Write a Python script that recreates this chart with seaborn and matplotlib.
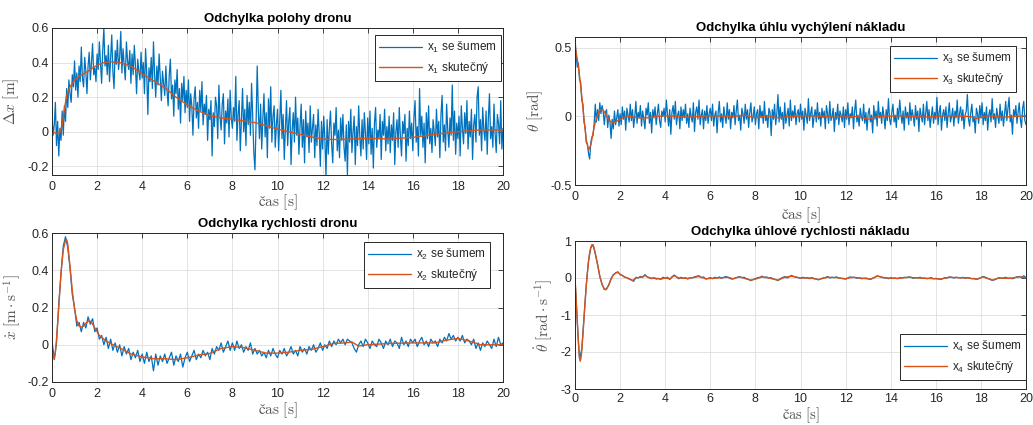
import matplotlib
matplotlib.use('Agg')
import matplotlib.pyplot as plt
import matplotlib.ticker as mticker
import pandas as pd
import seaborn as sns

BLUE = '#0072BD'
ORANGE = '#D95319'

# ---------------- data ----------------
# sample times: fine grid (0.05 s) for x1/x3, coarse grid (0.1 s) for x2/x4
time_fine = [round(0.05 * i, 2) for i in range(401)]
time_coarse = [round(0.1 * i, 1) for i in range(201)]

x1_noisy = [
    0.09, -0.02, 0.04, 0.17, -0.08, 0.06, -0.14, 0.02, -0.05, 0.12, -0.02, 0.15, 0.06, 0.25, 0.14, 0.30, 0.22, 0.17, 0.33, 0.26,
    0.41, 0.24, 0.34, 0.20, 0.38, 0.29, 0.49, 0.31, 0.26, 0.43, 0.35, 0.22, 0.38, 0.46, 0.30, 0.40, 0.51, 0.33, 0.37, 0.29,
    0.45, 0.36, 0.52, 0.40, 0.28, 0.47, 0.60, 0.38, 0.44, 0.33, 0.50, 0.29, 0.42, 0.56, 0.35, 0.25, 0.47, 0.39, 0.53, 0.36,
    0.43, 0.58, 0.34, 0.48, 0.39, 0.30, 0.52, 0.41, 0.36, 0.47, 0.28, 0.45, 0.33, 0.50, 0.38, 0.22, 0.42, 0.35, 0.30, 0.46,
    0.31, 0.40, 0.22, 0.48, 0.34, 0.10, 0.37, 0.29, 0.43, 0.25, 0.52, 0.33, 0.20, 0.38, 0.27, 0.45, 0.31, 0.18, 0.35, 0.28,
    0.21, 0.38, 0.24, 0.15, 0.33, 0.42, 0.19, 0.27, 0.09, 0.30, 0.22, 0.36, 0.13, 0.25, 0.05, 0.28, 0.18, 0.32, 0.11, 0.24,
    0.14, 0.30, 0.06, 0.22, 0.15, -0.02, 0.19, 0.26, 0.08, 0.17, 0.02, 0.24, 0.12, 0.29, 0.04, 0.16, 0.10, 0.21, -0.05, 0.13,
    0.07, 0.18, -0.14, 0.11, 0.03, 0.20, 0.15, -0.04, 0.27, 0.09, 0.01, 0.16, 0.22, -0.07, 0.12, 0.05, 0.19, -0.03, 0.24, 0.08,
    0.02, 0.14, 0.06, 0.32, -0.05, 0.10, 0.18, -0.11, 0.07, 0.25, 0.00, 0.13, -0.08, 0.21, 0.04, 0.17, -0.02, 0.28, 0.09, -0.12,
    -0.22, 0.05, 0.38, 0.12, -0.04, 0.16, -0.10, 0.08, 0.22, -0.03, 0.11, -0.15, 0.19, 0.02, 0.26, -0.06, 0.09, 0.15, -0.09, 0.04,
    0.13, -0.11, 0.07, 0.24, -0.04, 0.10, -0.16, 0.02, 0.18, -0.08, 0.06, 0.14, -0.19, 0.01, 0.11, -0.06, 0.20, -0.02, 0.08, -0.13,
    0.03, 0.16, -0.09, 0.07, -0.18, 0.12, -0.03, 0.05, -0.12, 0.15, -0.06, 0.02, 0.10, -0.15, 0.04, -0.08, 0.13, -0.01, -0.20, 0.06,
    -0.10, 0.09, -0.04, -0.26, 0.07, -0.13, 0.02, 0.12, -0.07, -0.18, 0.05, -0.02, 0.14, -0.11, 0.01, -0.15, 0.08, -0.05, 0.10, -0.09,
    -0.17, 0.04, -0.25, 0.06, -0.06, 0.13, -0.12, 0.00, 0.09, -0.19, 0.03, -0.08, 0.15, -0.03, -0.14, 0.07, -0.10, 0.11, -0.01, -0.16,
    0.08, -0.07, 0.12, -0.13, 0.02, -0.21, 0.05, 0.14, -0.09, 0.01, -0.04, 0.10, -0.16, 0.06, -0.02, 0.13, -0.11, 0.03, -0.07, 0.09,
    -0.12, 0.04, -0.05, 0.11, -0.19, 0.00, 0.07, -0.09, 0.14, -0.03, -0.14, 0.06, -0.01, 0.10, -0.17, 0.02, -0.08, 0.12, -0.04, 0.05,
    -0.11, 0.08, 0.18, -0.06, 0.03, -0.14, 0.25, -0.02, 0.09, -0.09, 0.05, -0.18, 0.11, -0.04, 0.15, -0.07, 0.02, -0.12, 0.07, 0.00,
    -0.08, 0.13, -0.03, 0.06, -0.15, 0.10, 0.21, -0.06, 0.04, -0.11, 0.16, 0.01, -0.09, 0.08, -0.02, 0.27, -0.05, 0.12, -0.13, 0.05,
    -0.04, 0.09, -0.14, 0.15, 0.02, -0.07, 0.11, -0.01, 0.18, -0.10, 0.06, -0.03, 0.13, -0.16, 0.04, 0.10, -0.06, 0.20, 0.26, -0.02,
    0.07, -0.11, 0.14, 0.01, -0.05, 0.12, -0.13, 0.08, 0.22, -0.04, 0.03, -0.09, 0.16, -0.01, -0.12, 0.10, 0.05, -0.07, 0.18, -0.10,
    0.02,
]
x1_true_t = [0.0, 0.2, 0.35, 0.45, 0.55, 0.65, 0.8, 1.0, 1.2, 1.4, 1.6, 1.8, 2.0, 2.3,
             2.6, 3.0, 3.5, 4.0, 4.5, 5.0, 5.5, 6.0, 6.5, 7.0, 7.5, 8.0, 8.5, 9.0, 9.5,
             10.0, 10.5, 11.0, 11.5, 12.0, 12.5, 13.0, 14.0, 15.0, 16.0, 17.0, 18.0, 19.0, 20.0]
x1_true = [0.0, -0.01, -0.005, 0.04, 0.13, 0.21, 0.26, 0.30, 0.32, 0.335, 0.35, 0.37, 0.385, 0.40,
           0.405, 0.40, 0.38, 0.335, 0.295, 0.255, 0.20, 0.155, 0.12, 0.093, 0.08, 0.072, 0.063, 0.053, 0.035,
           0.015, 0.0, -0.015, -0.03, -0.042, -0.045, -0.043, -0.038, -0.042, -0.032, -0.015, 0.0, 0.01, 0.01]

x2_noisy = [
    0.02, -0.08, 0.01, 0.22, 0.38, 0.53, 0.58, 0.52, 0.41, 0.27,
    0.20, 0.10, 0.12, 0.07, 0.12, 0.09, 0.15, 0.11, 0.14, 0.07,
    0.09, 0.03, 0.05, 0.00, 0.04, -0.02, 0.03, -0.03, 0.01, -0.04,
    0.00, -0.06, -0.01, -0.05, -0.02, -0.08, -0.04, -0.07, -0.03, -0.09,
    -0.05, -0.10, -0.04, -0.09, -0.06, -0.14, -0.05, -0.11, -0.06, -0.09,
    -0.05, -0.10, -0.07, -0.04, -0.11, -0.06, -0.09, -0.05, -0.12, -0.07,
    -0.04, -0.09, -0.06, -0.03, -0.08, -0.05, -0.07, -0.03, -0.06, -0.04,
    -0.08, -0.02, -0.05, -0.01, -0.03, 0.01, -0.04, -0.01, 0.02, -0.03,
    0.01, -0.03, 0.02, -0.02, 0.00, -0.04, -0.01, -0.03, 0.01, -0.05,
    -0.02, -0.05, -0.03, -0.06, -0.04, -0.07, -0.03, -0.06, -0.02, -0.05,
    -0.07, -0.03, -0.05, -0.02, -0.06, -0.04, -0.01, -0.05, -0.03, -0.06,
    -0.01, -0.04, -0.02, -0.05, -0.01, -0.03, 0.00, -0.04, -0.02, 0.01,
    -0.03, 0.00, -0.02, 0.02, -0.01, 0.02, 0.00, 0.03, 0.01, 0.03,
    0.00, 0.03, 0.02, 0.01, -0.02, -0.04, 0.00, 0.02, -0.01, 0.03,
    0.01, -0.02, 0.02, 0.00, -0.01, 0.03, 0.01, -0.02, 0.02, 0.00,
    0.03, -0.01, 0.02, 0.01, -0.02, 0.04, 0.00, 0.02, -0.01, 0.03,
    0.01, 0.03, -0.01, 0.02, 0.04, 0.00, 0.02, -0.01, 0.03, 0.01,
    0.02, -0.01, 0.03, 0.01, 0.04, 0.02, 0.06, 0.03, 0.05, 0.02,
    0.04, 0.02, 0.05, 0.01, 0.03, 0.02, 0.00, 0.03, -0.02, 0.01,
    -0.03, 0.01, -0.01, 0.02, 0.00, -0.02, 0.03, -0.01, 0.04, 0.00,
    0.01,
]
x2_true_t = [0.0, 0.05, 0.1, 0.15, 0.2, 0.3, 0.4, 0.5, 0.6, 0.65, 0.7, 0.8, 0.9, 1.0, 1.1,
             1.2, 1.3, 1.4, 1.5, 1.65, 1.75, 1.9, 2.1, 2.4, 2.7, 3.0, 3.5, 4.0, 4.5, 5.0,
             5.5, 6.0, 6.5, 7.0, 7.5, 8.0, 8.5, 9.0, 9.5, 10.0, 10.5, 11.0, 11.5, 12.0,
             12.5, 13.0, 13.3, 13.6, 14.0, 15.0, 16.0, 17.0, 17.5, 18.0, 18.5, 19.0, 20.0]
x2_true = [0.0, -0.05, -0.075, -0.04, 0.03, 0.20, 0.39, 0.51, 0.56, 0.565, 0.54, 0.42, 0.29, 0.19, 0.13,
           0.10, 0.095, 0.10, 0.115, 0.13, 0.12, 0.09, 0.05, 0.02, 0.0, -0.017, -0.05, -0.065, -0.075, -0.075,
           -0.08, -0.07, -0.055, -0.047, -0.02, -0.01, -0.015, -0.03, -0.045, -0.045, -0.04, -0.03, -0.025, -0.01,
           0.007, 0.01, 0.015, -0.007, 0.0, 0.007, 0.01, 0.01, 0.025, 0.034, 0.02, 0.0, 0.0]

x3_noisy = [
    0.58, 0.45, 0.36, 0.39, 0.27, 0.25, 0.12, 0.09, -0.04, -0.08, -0.19, -0.20, -0.27, -0.31, -0.19, -0.15, -0.14, -0.05, 0.09, -0.04,
    0.05, -0.03, 0.10, 0.02, 0.08, 0.04, -0.06, 0.03, 0.05, -0.08, 0.01, -0.04, -0.16, -0.02, -0.09, 0.04, -0.06, -0.01, 0.05, -0.07,
    0.02, -0.06, 0.07, -0.02, 0.04, -0.10, 0.06, 0.01, -0.04, 0.09, -0.03, 0.05, -0.08, 0.00, 0.11, -0.05, 0.03, -0.01, 0.08, -0.07,
    0.04, -0.02, -0.09, 0.06, 0.01, 0.10, -0.05, 0.03, -0.12, 0.05, -0.01, 0.07, -0.06, 0.02, 0.09, -0.03, -0.08, 0.04, 0.00, 0.06,
    -0.04, 0.12, 0.02, -0.07, 0.05, -0.13, 0.03, 0.08, -0.02, 0.11, -0.06, 0.01, 0.04, -0.09, 0.07, -0.03, 0.05, -0.01, 0.09, -0.05,
    0.02, -0.08, 0.06, 0.00, -0.04, 0.10, -0.11, 0.03, 0.07, -0.02, 0.12, -0.06, 0.01, 0.05, -0.09, 0.04, -0.03, 0.08, -0.05, 0.02,
    0.06, -0.03, 0.09, -0.07, 0.01, 0.04, -0.12, 0.03, 0.11, -0.04, 0.02, -0.08, 0.07, 0.00, -0.05, 0.10, -0.02, 0.05, -0.09, 0.03,
    -0.01, 0.08, -0.06, 0.04, 0.12, -0.03, 0.01, -0.10, 0.06, 0.02, -0.05, 0.09, -0.02, 0.05, -0.08, 0.03, 0.10, -0.04, 0.00, 0.07,
    -0.06, 0.02, 0.05, -0.09, 0.08, -0.01, 0.04, -0.05, 0.11, -0.03, 0.01, -0.08, 0.06, 0.03, -0.14, 0.05, -0.02, 0.09, -0.06, 0.02,
    0.16, -0.04, 0.07, -0.02, 0.03, -0.09, 0.10, -0.05, 0.01, 0.06, -0.07, 0.12, -0.03, 0.04, -0.01, 0.08, -0.06, 0.02, 0.05, -0.04,
    0.09, -0.02, 0.04, -0.10, 0.06, 0.01, -0.05, 0.13, -0.03, 0.02, 0.07, -0.08, 0.00, 0.05, -0.04, 0.10, -0.02, 0.03, -0.07, 0.06,
    -0.01, 0.04, -0.09, 0.08, 0.02, -0.05, 0.11, -0.03, 0.00, 0.06, -0.11, 0.03, -0.02, 0.09, -0.06, 0.04, 0.01, -0.04, 0.07, -0.08,
    0.05, -0.02, 0.10, -0.06, 0.02, -0.01, 0.07, -0.09, 0.04, 0.12, -0.04, 0.01, -0.07, 0.06, 0.00, -0.03, 0.09, -0.05, 0.03, -0.10,
    0.02, 0.06, -0.04, 0.01, -0.12, 0.08, -0.02, 0.04, -0.07, 0.11, -0.01, 0.03, -0.05, 0.07, 0.00, -0.09, 0.05, -0.03, 0.13, -0.02,
    -0.06, 0.03, 0.09, -0.04, 0.01, -0.08, 0.06, -0.02, 0.12, 0.02, -0.05, 0.04, -0.10, 0.07, -0.01, 0.03, -0.06, 0.10, -0.03, 0.05,
    0.00, -0.07, 0.08, -0.02, 0.04, -0.11, 0.06, 0.01, -0.04, 0.09, -0.06, 0.02, 0.11, -0.03, 0.05, -0.08, 0.00, 0.07, -0.05, 0.03,
    -0.02, 0.14, -0.06, 0.03, 0.08, -0.10, 0.01, 0.05, -0.03, 0.07, -0.08, 0.02, 0.10, -0.04, 0.00, 0.06, -0.07, 0.04, -0.01, 0.12,
    -0.05, 0.02, 0.07, -0.03, 0.05, -0.09, 0.01, 0.04, 0.16, -0.02, -0.07, 0.03, 0.09, -0.04, 0.00, -0.12, 0.06, 0.02, -0.05, 0.08,
    -0.01, 0.10, -0.06, 0.03, -0.03, 0.07, -0.10, 0.01, 0.05, -0.04, 0.13, -0.02, 0.02, -0.08, 0.06, 0.00, -0.05, 0.09, -0.03, 0.04,
    -0.07, 0.02, 0.11, -0.03, 0.06, 0.14, -0.04, 0.01, -0.13, 0.05, 0.00, 0.08, -0.05, 0.03, 0.10, -0.02, -0.08, 0.06, 0.11, -0.03,
    -0.06,
]
x3_true_t = [0.0, 0.1, 0.2, 0.3, 0.4, 0.5, 0.6, 0.7, 0.8, 0.9, 1.0, 1.1, 1.2, 1.3, 1.4,
             1.5, 1.6, 1.7, 1.8, 1.9, 2.0, 2.2, 2.5, 2.8, 3.2, 3.6, 4.0, 5.0, 5.5, 6.0,
             7.0, 7.5, 8.0, 8.5, 9.0, 9.5, 10.5, 11.5, 12.5, 13.0, 13.4, 14.5, 15.5,
             16.5, 17.5, 17.8, 18.3, 19.0, 20.0]
x3_true = [0.52, 0.42, 0.30, 0.15, -0.02, -0.17, -0.245, -0.21, -0.12, -0.04, 0.01, 0.048, 0.052, 0.035, 0.005,
           -0.024, -0.04, -0.044, -0.04, -0.03, -0.02, -0.005, 0.0, -0.01, -0.01, 0.0, 0.005, -0.005, 0.0, 0.005,
           0.0, 0.01, -0.01, 0.005, -0.01, 0.0, 0.005, -0.005, 0.0, -0.02, 0.0, 0.005, -0.005,
           0.005, 0.0, -0.015, 0.005, -0.005, 0.005]

x4_noisy = [
    0.00, -1.18, -2.19, -1.93, -1.06, -0.20, 0.47, 0.81, 0.90, 0.66,
    0.38, 0.04, -0.17, -0.31, -0.29, -0.19, -0.01, 0.09, 0.13, 0.17,
    0.09, 0.07, 0.02, 0.01, -0.03, -0.05, -0.09, 0.02, 0.00, 0.04,
    0.02, 0.09, 0.03, 0.01, -0.02, 0.01, -0.03, -0.01, -0.04, 0.02,
    -0.01, 0.02, -0.04, 0.03, 0.08, 0.03, -0.02, 0.02, -0.01, 0.01,
    -0.03, 0.01, 0.00, 0.03, 0.05, 0.06, 0.01, 0.03, -0.03, -0.01,
    0.01, -0.02, 0.02, 0.00, 0.03, -0.01, 0.02, 0.04, 0.01, -0.02,
    -0.03, 0.00, 0.02, 0.04, 0.01, 0.02, -0.02, -0.04, -0.07, -0.04,
    -0.02, 0.01, 0.02, 0.05, 0.01, 0.03, -0.01, 0.01, -0.03, -0.04,
    -0.07, -0.02, 0.01, 0.04, 0.00, 0.03, 0.07, 0.04, 0.02, 0.01,
    -0.01, 0.02, 0.00, 0.01, -0.02, 0.01, -0.01, -0.03, -0.05, -0.02,
    0.00, 0.01, 0.04, 0.00, 0.02, 0.01, 0.03, 0.00, -0.01, -0.02,
    -0.03, 0.00, 0.03, 0.01, 0.02, -0.01, 0.01, -0.02, -0.01, 0.00,
    -0.02, -0.04, -0.01, 0.02, 0.06, 0.04, 0.02, 0.00, 0.01, -0.02,
    0.01, -0.01, 0.00, -0.02, 0.01, 0.00, 0.02, 0.01, 0.03, 0.02,
    -0.01, 0.01, 0.00, 0.02, -0.01, 0.00, -0.02, -0.01, 0.01, -0.02,
    -0.01, -0.02, -0.04, -0.02, 0.01, 0.00, 0.03, 0.02, 0.00, 0.02,
    0.01, 0.00, 0.02, -0.01, 0.01, 0.00, -0.02, -0.01, -0.04, -0.02,
    0.01, 0.04, 0.02, -0.01, -0.03, -0.06, -0.05, -0.02, 0.01, -0.01,
    0.00, 0.02, -0.01, 0.00, -0.02, 0.01, 0.03, 0.04, 0.02, 0.06,
    0.01,
]
x4_true_t = [0.0, 0.05, 0.1, 0.15, 0.2, 0.23, 0.27, 0.3, 0.35, 0.4, 0.45, 0.5, 0.55, 0.6, 0.65,
             0.7, 0.75, 0.8, 0.85, 0.9, 1.0, 1.1, 1.2, 1.3, 1.35, 1.4, 1.5, 1.6, 1.7, 1.8,
             1.9, 2.0, 2.2, 2.4, 2.55, 2.7, 3.0, 3.1, 3.3, 3.6, 3.8, 4.0, 4.2, 4.4, 4.6,
             5.0, 5.5, 5.8, 6.3, 6.8, 7.0, 7.3, 7.8, 8.0, 8.3, 8.6, 9.0, 9.3, 9.6, 10.0,
             10.4, 10.8, 11.2, 11.6, 12.0, 12.3, 12.8, 13.1, 13.4, 13.8, 14.3, 14.8, 15.2,
             15.7, 16.2, 16.6, 17.0, 17.4, 17.8, 18.1, 18.5, 18.8, 19.3, 19.7, 20.0]
x4_true = [0.0, -0.55, -1.15, -1.75, -2.15, -2.25, -2.15, -1.95, -1.55, -1.08, -0.62, -0.2, 0.15, 0.45, 0.68,
           0.83, 0.90, 0.89, 0.80, 0.66, 0.36, 0.05, -0.18, -0.30, -0.32, -0.30, -0.18, -0.03, 0.08, 0.14,
           0.15, 0.10, 0.03, -0.02, -0.07, 0.0, 0.03, 0.07, 0.0, -0.01, -0.03, 0.0, -0.02, 0.06, 0.0,
           -0.01, 0.04, -0.02, 0.0, 0.02, -0.02, 0.03, -0.06, -0.03, 0.03, 0.0, -0.06, 0.02, 0.05, 0.0,
           0.0, -0.04, 0.02, 0.01, -0.02, 0.02, -0.01, -0.03, 0.05, 0.0, -0.01, 0.02, 0.0,
           -0.01, -0.03, 0.02, 0.01, 0.0, -0.03, 0.03, -0.06, 0.0, -0.01, 0.03, 0.0]

x_ticks = [0, 2, 4, 6, 8, 10, 12, 14, 16, 18, 20]

# ---------------- style ----------------
sns.set_style('white')
plt.rcParams['font.family'] = ['Liberation Sans', 'DejaVu Sans']
plt.rcParams['axes.unicode_minus'] = False
plt.rcParams['mathtext.fontset'] = 'dejavusans'

fig = plt.figure(figsize=(10.33, 4.25), dpi=100)
W, H = 1033.0, 425.0


def box(left, top, right, bottom):
    return [left / W, 1 - bottom / H, (right - left) / W, (bottom - top) / H]


panels = [
    dict(pos=box(52, 28, 503, 175), t=time_fine, noisy=x1_noisy, tt=x1_true_t, true=x1_true, idx='1',
         ylim=(-0.25, 0.6), yticks=[-0.2, 0, 0.2, 0.4, 0.6],
         ylabel=r'$\Delta x\ [\mathrm{m}]$', title='Odchylka polohy dronu',
         loc='upper right', anchor=(1 - 2 / 451, 1 - 7 / 147), ylx=-0.069, xly=-0.12, xpad=4, xfs=11),
    dict(pos=box(52, 233, 503, 382), t=time_coarse, noisy=x2_noisy, tt=x2_true_t, true=x2_true, idx='2',
         ylim=(-0.2, 0.6), yticks=[-0.2, 0, 0.2, 0.4, 0.6],
         ylabel=r'$\dot{x}\ [\mathrm{m}\cdot\mathrm{s}^{-1}]$', title='Odchylka rychlosti dronu',
         loc='upper right', anchor=(1 - 13 / 451, 1 - 9 / 149), ylx=-0.064, xly=-0.125, xpad=4, xfs=11),
    dict(pos=box(575, 37, 1026, 185), t=time_fine, noisy=x3_noisy, tt=x3_true_t, true=x3_true, idx='3',
         ylim=(-0.5, 0.58), yticks=[-0.5, 0, 0.5],
         ylabel=r'$\theta\ [\mathrm{rad}]$', title='Odchylka úhlu vychýlení nákladu',
         loc='upper right', anchor=(1 - 10 / 451, 1 - 9 / 148), ylx=-0.0665, xly=-0.135, xpad=4, xfs=11),
    dict(pos=box(575, 241, 1026, 389), t=time_coarse, noisy=x4_noisy, tt=x4_true_t, true=x4_true, idx='4',
         ylim=(-3, 1), yticks=[-3, -2, -1, 0, 1],
         ylabel=r'$\dot{\theta}\ [\mathrm{rad}\cdot\mathrm{s}^{-1}]$', title='Odchylka úhlové rychlosti nákladu',
         loc='lower right', anchor=(1.0, 9 / 148), ylx=-0.044, xly=-0.112, xpad=3, xfs=10.5),
]

fmt = mticker.FuncFormatter(lambda v, p: f'{v:g}')

for p in panels:
    ax = fig.add_axes(p['pos'])
    df_n = pd.DataFrame({'t': p['t'], 'v': p['noisy']})
    df_t = pd.DataFrame({'t': p['tt'], 'v': p['true']})
    sns.lineplot(data=df_n, x='t', y='v', ax=ax, color=BLUE, lw=0.9, estimator=None, sort=False,
                 label='x$_\\mathregular{%s}$ se šumem' % p['idx'], legend=False)
    sns.lineplot(data=df_t, x='t', y='v', ax=ax, color=ORANGE, lw=1.0, estimator=None, sort=False,
                 label='x$_\\mathregular{%s}$ skutečný' % p['idx'], legend=False)
    ax.set_xlim(0, 20)
    ax.set_ylim(*p['ylim'])
    ax.set_xticks(x_ticks)
    ax.set_yticks(p['yticks'])
    ax.xaxis.set_major_formatter(fmt)
    ax.yaxis.set_major_formatter(fmt)
    ax.grid(True, color='#dedede', lw=0.6)
    ax.set_axisbelow(True)
    for s in ax.spines.values():
        s.set_color('#262626')
        s.set_linewidth(0.7)
    ax.tick_params(direction='in', top=True, right=True, length=3.5, width=0.6,
                   colors='#262626', labelsize=9)
    ax.tick_params(axis='x', pad=p['xpad'])
    ax.tick_params(axis='y', pad=2.5)
    ax.set_title(p['title'], fontsize=9.5, fontweight='bold', color='black', pad=4)
    ax.set_xlabel(r'$\mathrm{čas}\ [\mathrm{s}]$', math_fontfamily='cm', fontsize=p['xfs'], color='#555555')
    ax.set_ylabel(p['ylabel'], math_fontfamily='cm', fontsize=11, color='#555555')
    ax.yaxis.set_label_coords(p['ylx'], 0.5)
    ax.xaxis.set_label_coords(0.5, p['xly'])
    leg = ax.legend(loc=p['loc'], bbox_to_anchor=p['anchor'], borderaxespad=0, fancybox=False,
                    framealpha=1, edgecolor='#262626', fontsize=8.5, handlelength=3.6,
                    borderpad=0.4, labelspacing=0.45, handletextpad=0.4)
    leg.get_frame().set_linewidth(0.7)

fig.savefig('out.png', dpi=100)
